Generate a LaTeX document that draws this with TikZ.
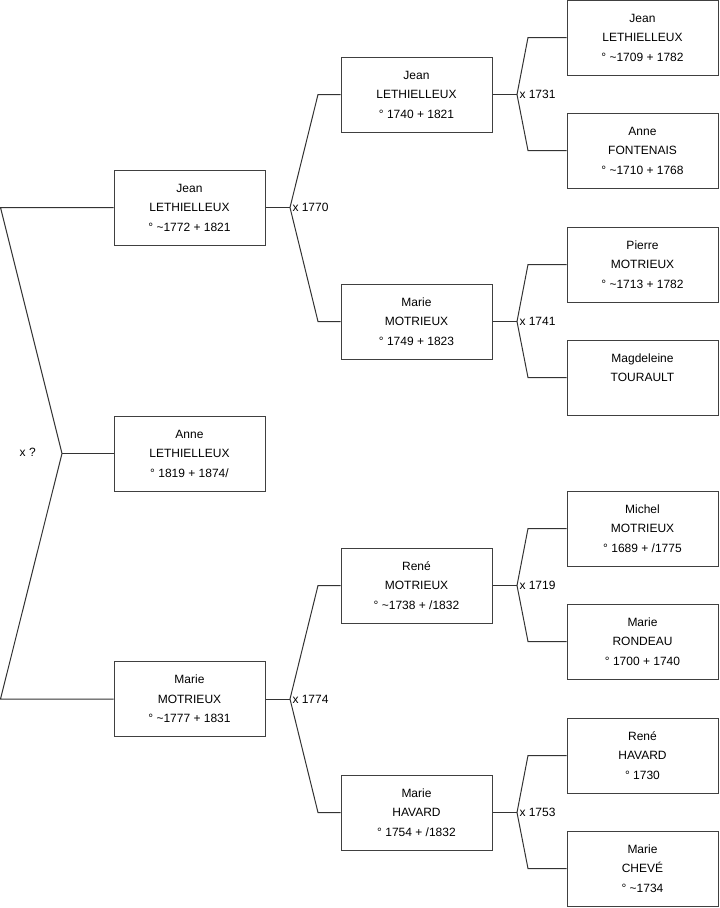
\documentclass[tikz,border=0pt]{standalone}
\usepackage{fontspec}
\setmainfont{Liberation Sans}
\usepackage{tikz}
\usetikzlibrary{
  calc,%
  positioning
}
\tikzset{>=latex}
\tikzset{font=\fontsize{9pt}{14.6pt}\selectfont}
\tikzset{
  person/.style={draw=black!75, line width=0.75pt, minimum width=113.25pt,
    minimum height=56.25pt, inner sep=0pt, align=center},
  link/.style={draw=black!80, line width=0.75pt},
  wed/.style={right, inner sep=1.5pt}
}

\begin{document}
\begin{tikzpicture}[x=0.75pt, y=-0.75pt]
    \useasboundingbox (0,0) rectangle (719,908);
    % child and parents
    \node[person] (jean1) at (189.5,207.5) {Jean\\LETHIELLEUX\\° \textasciitilde1772 + 1821};
    \node[person] (anne) at (189.5,453.5) {Anne\\LETHIELLEUX\\° 1819 + 1874/};
    \node[person] (marie1) at (189.5,699) {Marie\\MOTRIEUX\\° \textasciitilde1777 + 1831};
    % grandparents
    \node[person] (jean2) at (416.5,94.5) {Jean\\LETHIELLEUX\\° 1740 + 1821};
    \node[person] (marie2) at (416.5,321.5) {Marie\\MOTRIEUX\\° 1749 + 1823};
    \node[person] (rene2) at (416.5,585.5) {René\\MOTRIEUX\\° \textasciitilde1738 + /1832};
    \node[person] (marieh2) at (416.5,812.5) {Marie\\HAVARD\\° 1754 + /1832};
    % great-grandparents
    \node[person] (jean3) at (642.5,37.5) {Jean\\LETHIELLEUX\\° \textasciitilde1709 + 1782};
    \node[person] (anne3) at (642.5,150.5) {Anne\\FONTENAIS\\° \textasciitilde1710 + 1768};
    \node[person] (pierre3) at (642.5,264.5) {Pierre\\MOTRIEUX\\° \textasciitilde1713 + 1782};
    \node[person] (magd3) at (642.5,377.5) {Magdeleine\\TOURAULT\\\mbox{}};
    \node[person] (michel3) at (642.5,528.5) {Michel\\MOTRIEUX\\° 1689 + /1775};
    \node[person] (marier3) at (642.5,641.5) {Marie\\RONDEAU\\° 1700 + 1740};
    \node[person] (reneh3) at (642.5,755.5) {René\\HAVARD\\° 1730};
    \node[person] (mariec3) at (642.5,868.5) {Marie\\CHEVÉ\\° \textasciitilde1734};

    % columns where the forks bend
    \coordinate (k0) at (0.5,0);
    \coordinate (k1) at (318,0);
    \coordinate (k2) at (528,0);

    \coordinate (manne) at (62,453.5);
    \draw[link] (anne.west) -- (manne);
    \draw[link] (jean1.west) -- (jean1.west -| k0) -- (manne) -- (marie1.west -| k0) -- (marie1.west);
    \node[left, inner sep=0pt] (wanne) at (36,452) {x ?};

    \foreach \c/\f/\m/\k/\t in {jean1/jean2/marie2/k1/1770, marie1/rene2/marieh2/k1/1774,
      jean2/jean3/anne3/k2/1731, marie2/pierre3/magd3/k2/1741,
      rene2/michel3/marier3/k2/1719, marieh2/reneh3/mariec3/k2/1753}
    {
      \draw[link] (\c.east) -- ++(24.5,0) coordinate (m\c) node[wed] (w\c) {x \t};
      \draw[link] (\f.west) -- (\f.west -| \k) -- (m\c) -- (\m.west -| \k) -- (\m.west);
    }
\end{tikzpicture}
\end{document}
